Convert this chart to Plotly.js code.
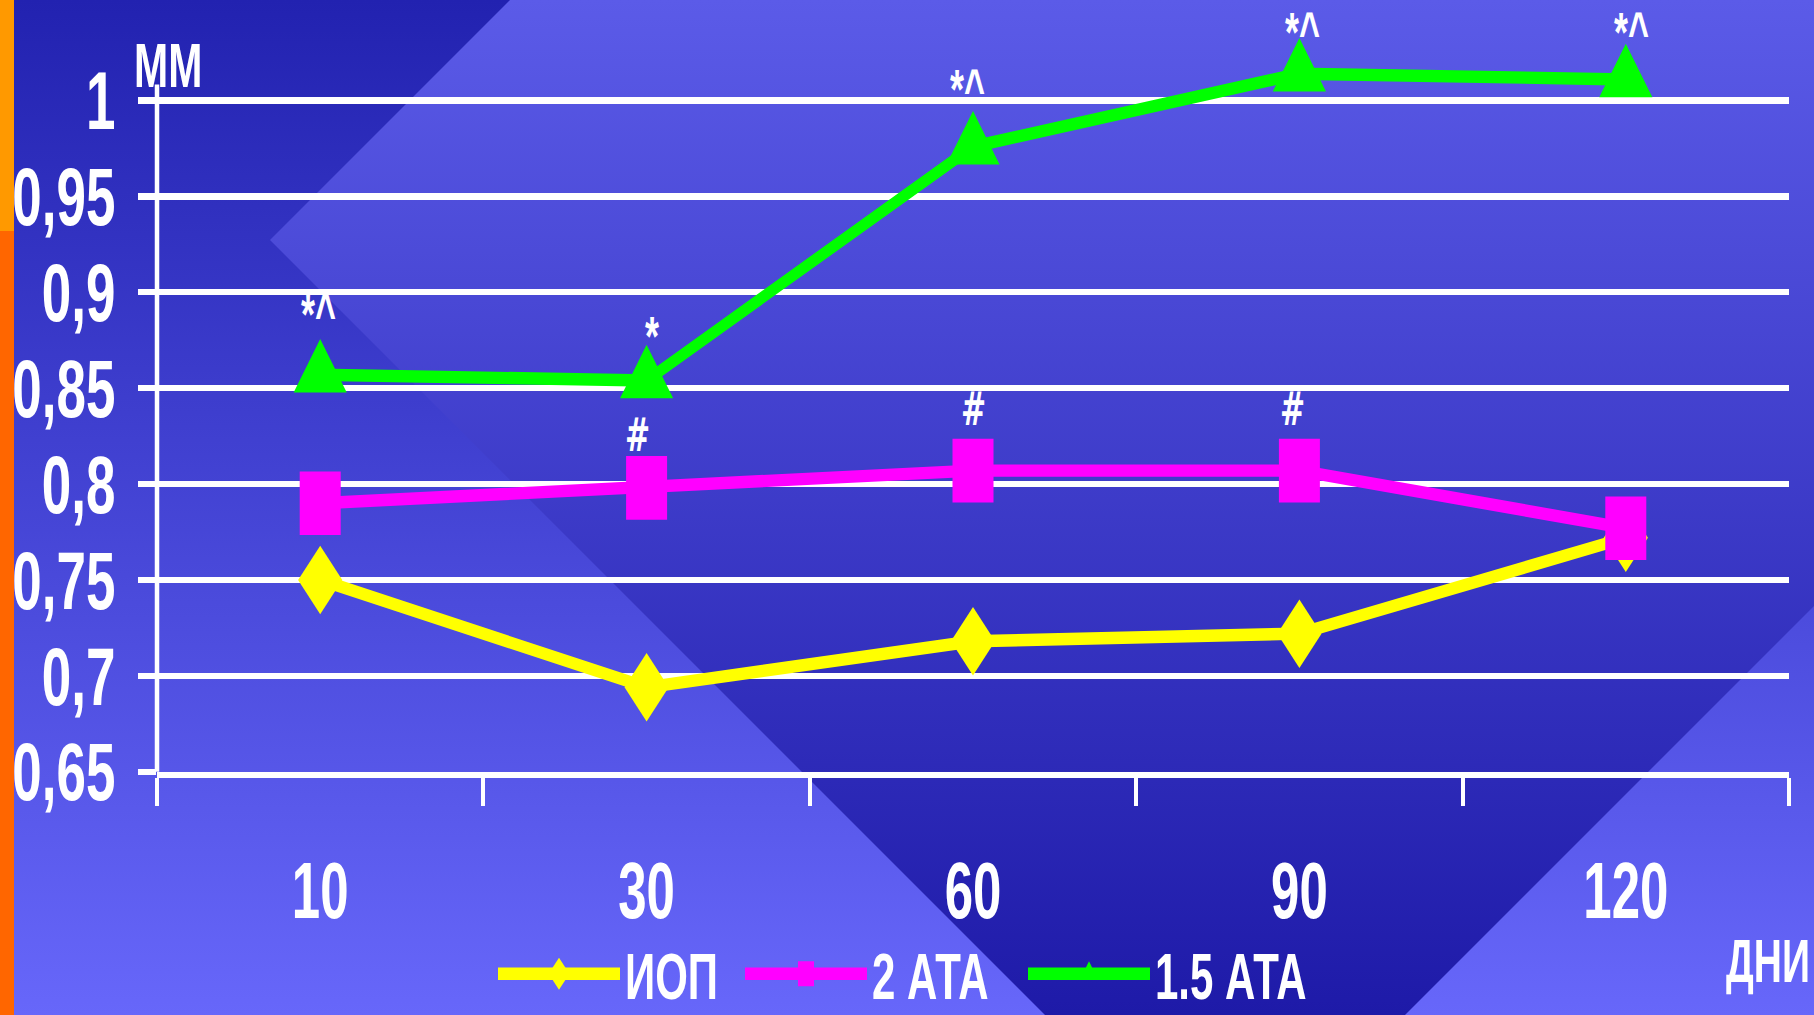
<!DOCTYPE html>
<html><head><meta charset="utf-8">
<script src="https://cdn.plot.ly/plotly-3.0.1.min.js"></script>
<style>
html,body{margin:0;padding:0;width:1814px;height:1015px;overflow:hidden;background:#3a3ad0;}
#bg{position:absolute;left:0;top:0;}
#chart{position:absolute;left:0;top:0;width:1814px;height:655px;transform:scaleY(1.5496);transform-origin:0 0;}
</style></head><body>
<svg id="bg" width="1814" height="1015">
 <defs>
  <linearGradient id="base" gradientUnits="userSpaceOnUse" x1="0" y1="0" x2="0" y2="1015"><stop offset="0" stop-color="#2222B0"/><stop offset="1" stop-color="#6767FA"/></linearGradient>
  <linearGradient id="dia" gradientUnits="userSpaceOnUse" x1="0" y1="0" x2="0" y2="1015"><stop offset="0" stop-color="#5B5BE8"/><stop offset="1" stop-color="#1E1AA8"/></linearGradient>
 </defs>
 <rect width="1814" height="1015" fill="url(#base)"/>
 <polygon points="270,240 1225,-715 2180,240 1225,1195" fill="url(#dia)"/>
 <rect x="0" y="0" width="14" height="231" fill="#FF9900"/>
 <rect x="0" y="231" width="14" height="784" fill="#FF6600"/>
</svg>
<div id="chart"></div>
<script>
// ---- data ----
var days = ['10', '30', '60', '90', '120'];
var iop = [0.750, 0.694, 0.718, 0.722, 0.772];
var ata2 = [0.790, 0.798, 0.807, 0.807, 0.777];
var ata15 = [0.857, 0.854, 0.976, 1.014, 1.011];
var seriesNames = ['ИОП', '2 АТА', '1.5 АТА'];
var yTickVals = [0.65, 0.7, 0.75, 0.8, 0.85, 0.9, 0.95, 1];
var yTickText = ['0,65', '0,7', '0,75', '0,8', '0,85', '0,9', '0,95', '1'];
var sig15 = ['*^', '*', '*^', '*^', '*^'];
var sig2 = ['', '#', '#', '#', ''];
var yUnit = 'ММ';
var xUnit = 'ДНИ';

// ---- layout geometry (drawn at height H, stretched vertically by k) ----
var W = 1814, H = 655, k = 1015 / H;
var yTop = 1.05;
var pxPerUnit = 1914;              // full-picture px per 1.0 of value
var yTopPx = 101 - (yTop - 1) * pxPerUnit;
var mL = 157, mR = 1814 - 1789, mT = yTopPx / k, mB = H - 771 / k;
function pX(xf) { return (xf - mL) / (W - mL - mR); }
function pY(yf) { return (H - mB - yf / k) / (H - mT - mB); }

var FONT = '"Liberation Sans", Arial, sans-serif';
var FONT2 = '"DejaVu Sans", sans-serif';
var white = '#FFFFFF';

var traces = [
  {x: days, y: iop, name: seriesNames[0], type: 'scatter', mode: 'lines+markers', legend: 'legend',
   line: {color: '#FFFF00', width: 8},
   marker: {symbol: 'diamond', size: 34, color: '#FFFF00'}, cliponaxis: false},
  {x: days, y: ata2, name: seriesNames[1], type: 'scatter', mode: 'lines+markers', legend: 'legend2',
   line: {color: '#FF00FF', width: 8},
   marker: {symbol: 'square', size: 41, color: '#FF00FF'}, cliponaxis: false},
  {x: days, y: ata15, name: seriesNames[2], type: 'scatter', mode: 'lines+markers', legend: 'legend3',
   line: {color: '#00FF00', width: 8},
   marker: {symbol: 'triangle-up', size: 46, color: '#00FF00'}, cliponaxis: false}
];

var sig15Shift = [[-2, 39], [5, 29], [-6, 37], [3, 27], [6, 31]];
var sig2Shift = [[0, 40], [-9, 34], [0, 40], [-7, 40], [0, 40]];
var annotations = [];
days.forEach(function (d, i) {
  if (sig15[i]) annotations.push({x: i, y: ata15[i], xref: 'x', yref: 'y', text: sig15[i], showarrow: false,
    xshift: sig15Shift[i][0], yshift: sig15Shift[i][1], font: {family: FONT, size: 36, color: white, weight: 'bold'}});
  if (sig2[i]) annotations.push({x: i, y: ata2[i], xref: 'x', yref: 'y', text: sig2[i], showarrow: false,
    xshift: sig2Shift[i][0], yshift: sig2Shift[i][1], font: {family: FONT2, size: 30, color: white, weight: 'bold'}});
});
annotations.push({xref: 'paper', yref: 'paper', x: pX(132), y: pY(66), xanchor: 'left', yanchor: 'middle',
  text: yUnit, showarrow: false, font: {family: FONT, size: 41, color: white, weight: 'bold'}});
annotations.push({xref: 'paper', yref: 'paper', x: pX(1812), y: pY(961), xanchor: 'right', yanchor: 'middle',
  text: xUnit, showarrow: false, font: {family: FONT, size: 39, color: white, weight: 'bold'}});

var shapes = [
  {type: 'line', xref: 'paper', yref: 'paper', x0: 0, x1: 0, y0: pY(771), y1: pY(85),
   line: {color: white, width: 4.5}, layer: 'above'}
];

function legendAt(xFull) {
  return {orientation: 'h', x: pX(xFull - 7), y: pY(973), xanchor: 'left', yanchor: 'middle',
    bgcolor: 'rgba(0,0,0,0)', itemwidth: 122,
    font: {family: FONT, size: 42, color: white, weight: 'bold'}};
}

var layout = {
  width: W, height: H,
  margin: {l: mL, r: mR, t: mT, b: mB, autoexpand: false},
  paper_bgcolor: 'rgba(0,0,0,0)', plot_bgcolor: 'rgba(0,0,0,0)',
  font: {family: FONT, color: white, weight: 'bold'},
  showlegend: true,
  hovermode: false,
  xaxis: {type: 'category', range: [-0.5, 4.5], tickson: 'boundaries', ticks: 'outside',
    ticklen: 18, tickwidth: 4, tickcolor: white, showgrid: false, zeroline: false,
    showline: true, linecolor: white, linewidth: 4, ticklabelstandoff: 29,
    tickfont: {family: FONT, size: 51, color: white, weight: 'bold'}},
  yaxis: {range: [0.65, yTop], tickvals: yTickVals, ticktext: yTickText, ticks: 'outside',
    ticklen: 18, tickwidth: 4, tickcolor: white, showgrid: true, gridcolor: white, gridwidth: 4,
    zeroline: false, showline: false, ticklabelstandoff: 12,
    tickfont: {family: FONT, size: 53, color: white, weight: 'bold'}},
  legend: legendAt(500),
  legend2: legendAt(747),
  legend3: legendAt(1030),
  shapes: shapes,
  annotations: annotations
};

Plotly.newPlot('chart', traces, layout, {staticPlot: true, displayModeBar: false, responsive: false});
</script>
</body></html>
